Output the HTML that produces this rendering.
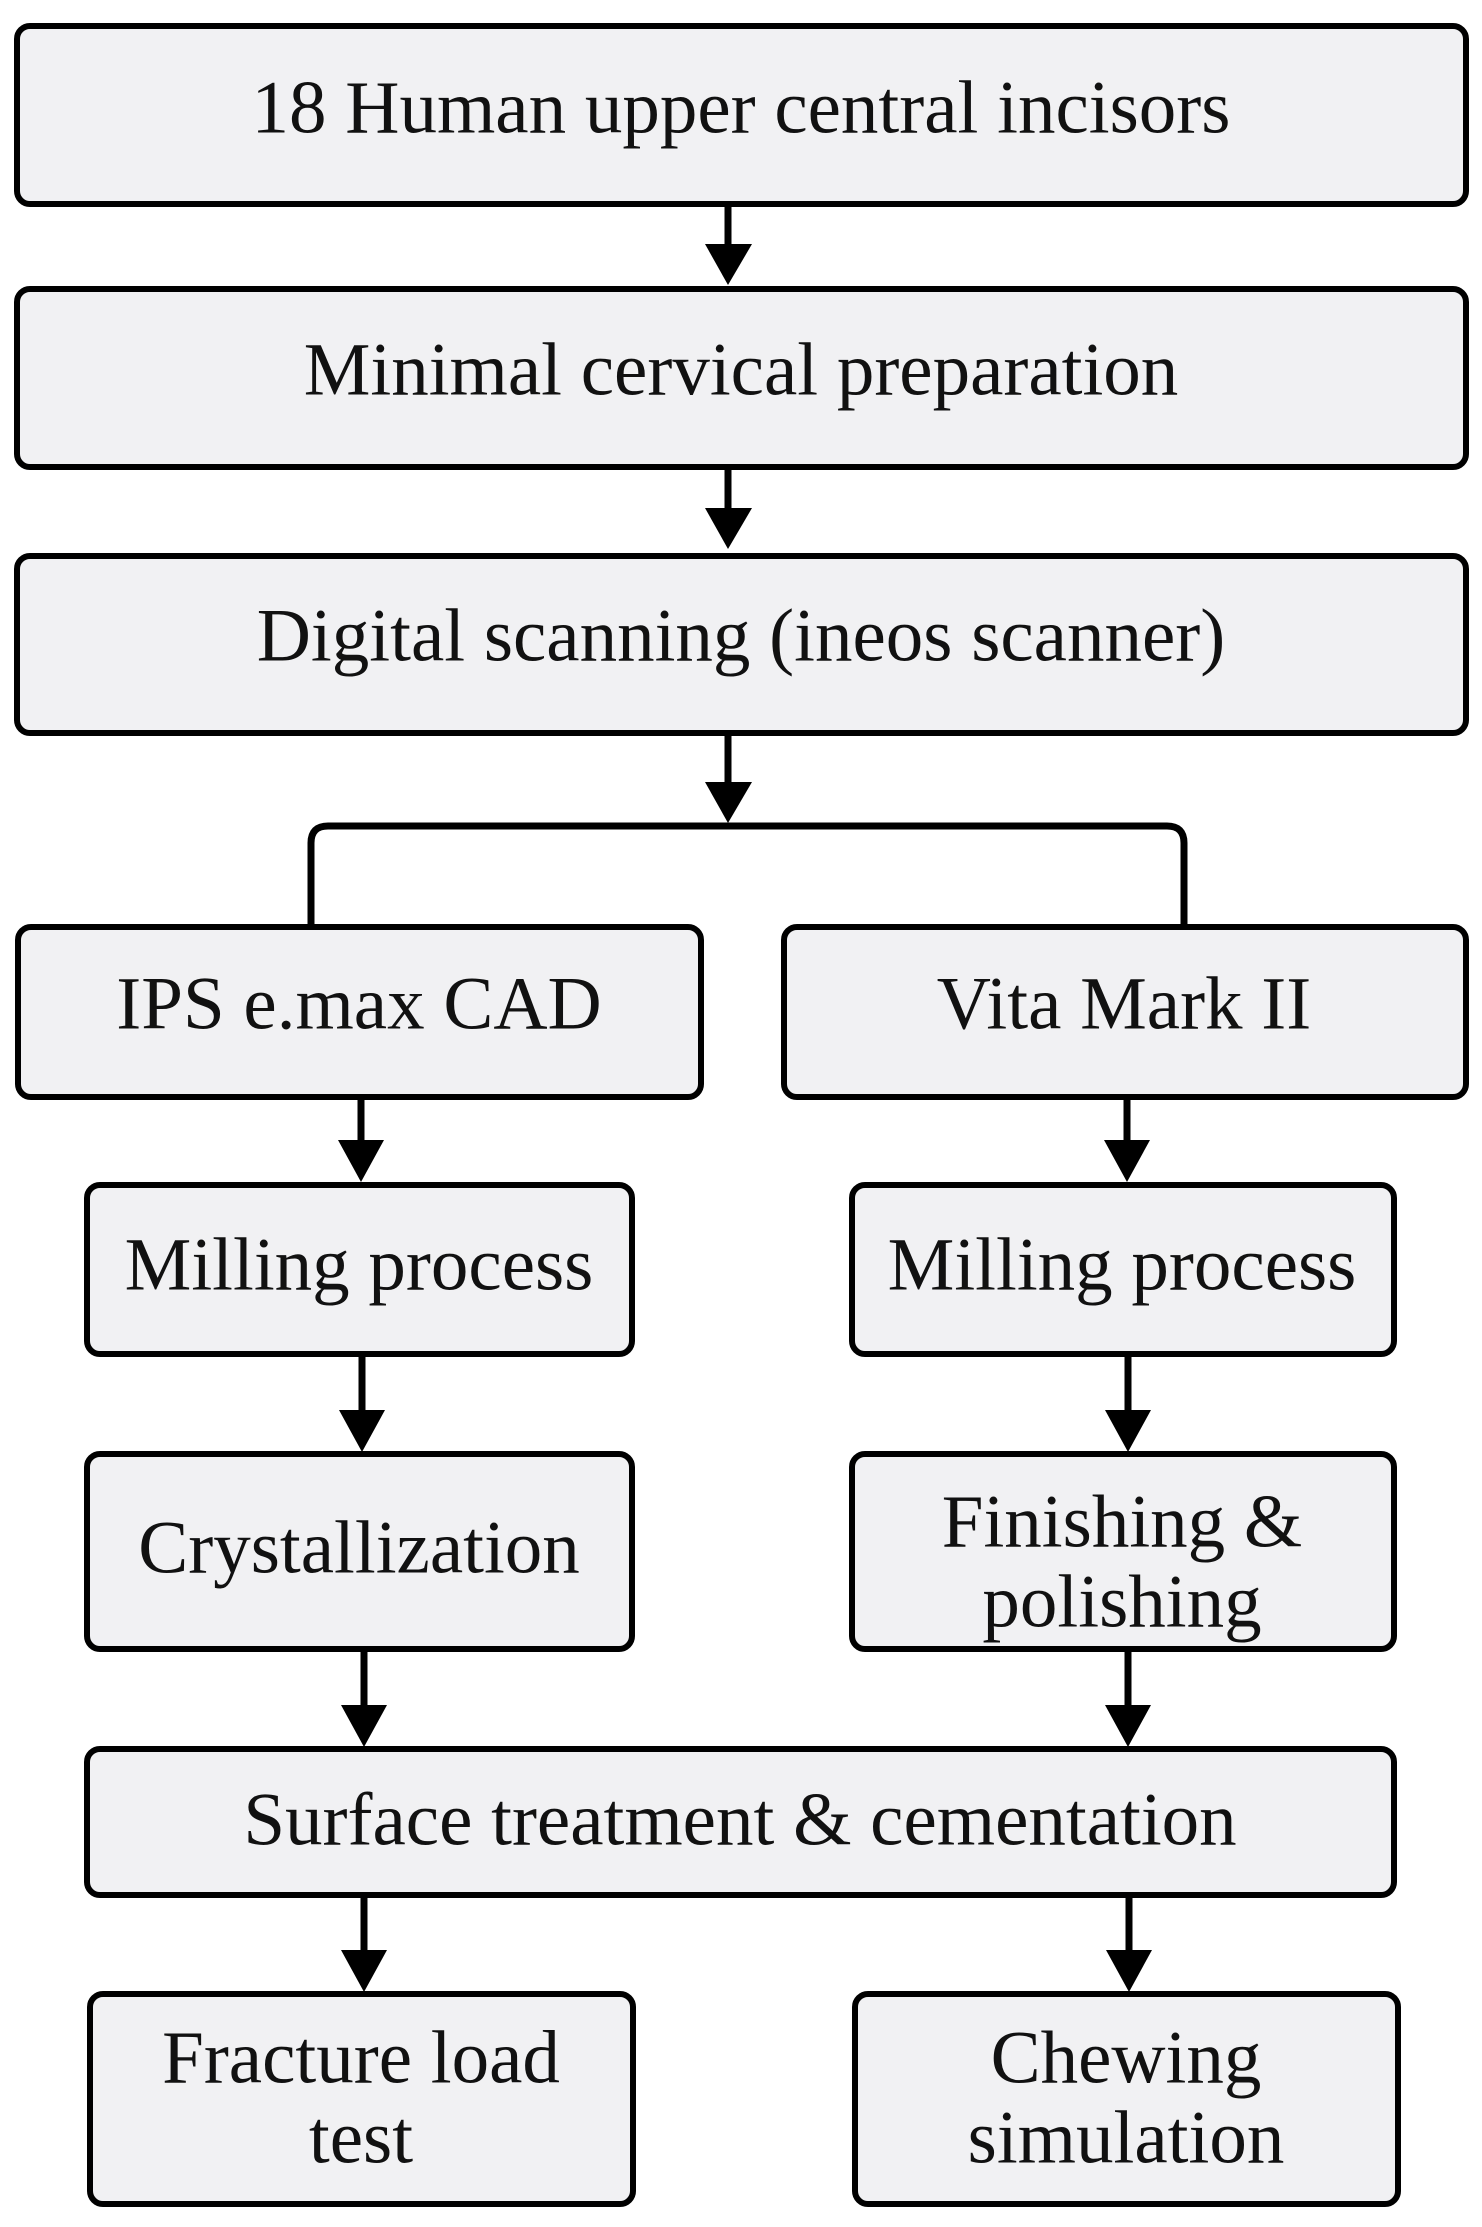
<!DOCTYPE html>
<html><head><meta charset="utf-8"><style>
html,body{margin:0;padding:0;background:#fff;}
svg{display:block;}
text{font-family:"Liberation Serif",serif;font-size:75px;fill:#111;text-anchor:middle;dominant-baseline:central;}
</style></head><body>
<svg width="1482" height="2227" viewBox="0 0 1482 2227" xmlns="http://www.w3.org/2000/svg">
<g fill="#f1f1f3" stroke="#000" stroke-width="6">
<rect x="17" y="26" width="1449" height="178" rx="13"/>
<rect x="17" y="289" width="1449" height="178" rx="13"/>
<rect x="17" y="556" width="1449" height="177" rx="13"/>
<rect x="18" y="927" width="683" height="170" rx="13"/>
<rect x="784" y="927" width="682" height="170" rx="13"/>
<rect x="87" y="1185" width="545" height="169" rx="13"/>
<rect x="852" y="1185" width="542" height="169" rx="13"/>
<rect x="87" y="1454" width="545" height="195" rx="13"/>
<rect x="852" y="1454" width="542" height="195" rx="13"/>
<rect x="87" y="1749" width="1307" height="146" rx="13"/>
<rect x="90" y="1994" width="543" height="210" rx="13"/>
<rect x="855" y="1994" width="543" height="210" rx="13"/>
</g>
<g stroke="#000" stroke-width="7" fill="none">
<line x1="728" y1="204" x2="728" y2="250"/>
<line x1="728" y1="467" x2="728" y2="515"/>
<line x1="728" y1="733" x2="728" y2="790"/>
<path d="M311 927 V843 Q311 826 328 826 H1167 Q1184 826 1184 843 V927"/>
<line x1="361" y1="1097" x2="361" y2="1148"/>
<line x1="1127" y1="1097" x2="1127" y2="1148"/>
<line x1="362" y1="1354" x2="362" y2="1418"/>
<line x1="1128" y1="1354" x2="1128" y2="1418"/>
<line x1="364" y1="1649" x2="364" y2="1712"/>
<line x1="1128" y1="1649" x2="1128" y2="1712"/>
<line x1="364" y1="1895" x2="364" y2="1958"/>
<line x1="1129" y1="1895" x2="1129" y2="1958"/>
</g>
<g fill="#000">
<polygon points="705,244 752,244 728,285"/>
<polygon points="705,508 752,508 728,549"/>
<polygon points="705,782 752,782 728,823"/>
<polygon points="338,1140 384,1140 361,1182"/>
<polygon points="1104,1140 1150,1140 1127,1182"/>
<polygon points="339,1410 385,1410 362,1452"/>
<polygon points="1105,1410 1151,1410 1128,1452"/>
<polygon points="341,1705 387,1705 364,1747"/>
<polygon points="1105,1705 1151,1705 1128,1747"/>
<polygon points="341,1950 387,1950 364,1992"/>
<polygon points="1106,1950 1152,1950 1129,1992"/>
</g>
<text x="741" y="108">18 Human upper central incisors</text>
<text x="741" y="370">Minimal cervical preparation</text>
<text x="741" y="636">Digital scanning (ineos scanner)</text>
<text x="359" y="1004">IPS e.max CAD</text>
<text x="1124" y="1004">Vita Mark II</text>
<text x="359" y="1265">Milling process</text>
<text x="1122" y="1265">Milling process</text>
<text x="359" y="1548">Crystallization</text>
<text x="1122" y="1522">Finishing &amp;</text>
<text x="1122" y="1602">polishing</text>
<text x="740" y="1820">Surface treatment &amp; cementation</text>
<text x="361" y="2058">Fracture load</text>
<text x="361" y="2138">test</text>
<text x="1126" y="2058">Chewing</text>
<text x="1126" y="2138">simulation</text>
</svg>
</body></html>
